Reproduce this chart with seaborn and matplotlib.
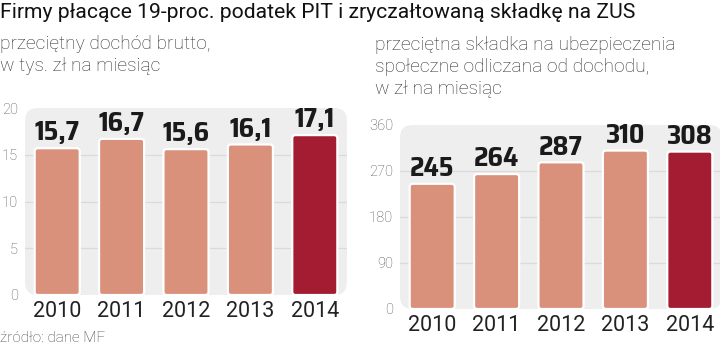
import matplotlib
matplotlib.use("Agg")
import matplotlib.pyplot as plt
import seaborn as sns
import pandas as pd
from matplotlib.patches import FancyBboxPatch

years = ["2010", "2011", "2012", "2013", "2014"]
income = [15.7, 16.7, 15.6, 16.1, 17.1]
income_labels = ["15,7", "16,7", "15,6", "16,1", "17,1"]
contrib = [245, 264, 287, 310, 308]
contrib_labels = ["245", "264", "287", "310", "308"]
highlight = ["n", "n", "n", "n", "y"]
left_ticks = [0, 5, 10, 15, 20]
right_ticks = [0, 90, 180, 270, 360]

title = "Firmy płacące 19-proc. podatek PIT i zryczałtowaną składkę na ZUS"
sub_left = "przeciętny dochód brutto,\nw tys. zł na miesiąc"
sub_right = "przeciętna składka na ubezpieczenia\nspołeczne odliczana od dochodu,\nw zł na miesiąc"
source = "źródło: dane MF"

sns.set_theme(style="white")
plt.rcParams["font.family"] = ["Roboto", "DejaVu Sans"]

LIGHT = "#d9917c"
DARK = "#a41c32"
BG = "#eeeeee"
GRID = "#dadada"

W, H = 720, 348
fig = plt.figure(figsize=(7.2, 3.48), dpi=100)
fig.patch.set_facecolor("white")

def px_axes(x0, y_top, x1, y_bot):
    return fig.add_axes([x0 / W, 1 - y_bot / H, (x1 - x0) / W, (y_bot - y_top) / H])

def panel(ax, vals, labels, ticks, ymax):
    df = pd.DataFrame({"year": years, "value": vals, "hl": highlight})
    sns.barplot(data=df, x="year", y="value", hue="hl", palette={"n": LIGHT, "y": DARK},
                width=0.7, dodge=False, legend=False, ax=ax, saturation=1, zorder=3)
    ax.set_ylim(0, ymax)
    ax.set_xlim(-0.5, 4.5)
    ax.patch.set_visible(False)
    for s in ax.spines.values():
        s.set_visible(False)
    bg = FancyBboxPatch((0, 0), 1, 1, boxstyle="round,pad=0,rounding_size=0.04",
                        transform=ax.transAxes, facecolor=BG, edgecolor="none",
                        zorder=0, mutation_aspect=322 / 187, clip_on=False)
    ax.add_patch(bg)
    ax.set_yticks(ticks)
    ax.set_yticklabels([str(t) for t in ticks], color="#555555", fontsize=10.5,
                       fontweight="light")
    for t in ticks[1:-1]:
        ax.axhline(t, color=GRID, lw=0.9, zorder=1)
    ax.tick_params(axis="y", length=0, pad=5)
    ax.tick_params(axis="x", length=0, pad=4)
    for lab in ax.get_xticklabels():
        lab.set_fontsize(15.5)
        lab.set_color("#222222")
    ax.set_xlabel("")
    ax.set_ylabel("")
    fig.canvas.draw()
    bb = ax.get_window_extent()
    x0, x1 = ax.get_xlim()
    y0, y1 = ax.get_ylim()
    aspect = ((y1 - y0) / bb.height) / ((x1 - x0) / bb.width)
    bars = [p for p in ax.patches if p is not bg]
    for p in bars:
        x, y, w, h = p.get_x(), p.get_y(), p.get_width(), p.get_height()
        fb = FancyBboxPatch((x, y), w, h, boxstyle="round,pad=0,rounding_size=0.05",
                            mutation_aspect=aspect, facecolor=p.get_facecolor(),
                            edgecolor="white", lw=1.6, zorder=3)
        p.set_visible(False)
        ax.add_patch(fb)
    for p, lab in zip(bars, labels):
        ax.annotate(lab, (p.get_x() + p.get_width() / 2, p.get_height()),
                    xytext=(0, 2), textcoords="offset points", ha="center", va="bottom",
                    fontsize=19.5, fontweight="bold", color="#1a1a1a",
                    family=["Saira SemiCondensed", "DejaVu Sans"])

axL = px_axes(25, 108, 347, 295)
panel(axL, income, income_labels, left_ticks, 20)
axR = px_axes(400, 125, 722, 309)
panel(axR, contrib, contrib_labels, right_ticks, 360)

fig.text(0 / W, 1 - 12 / H, title, fontsize=15.2, color="#111111", va="center", ha="left")
fig.text(0 / W, 1 - 55 / H, sub_left, fontsize=13.8, color="#2e2e2e", va="center", ha="left",
         fontweight="light", linespacing=1.3)
fig.text(375 / W, 1 - 67 / H, sub_right, fontsize=13.8, color="#2e2e2e", va="center", ha="left",
         fontweight="light", linespacing=1.3)
fig.text(0 / W, 1 - 338 / H, source, fontsize=11, color="#444444", va="center", ha="left",
         fontweight="light")

fig.savefig("out.png", dpi=100)
